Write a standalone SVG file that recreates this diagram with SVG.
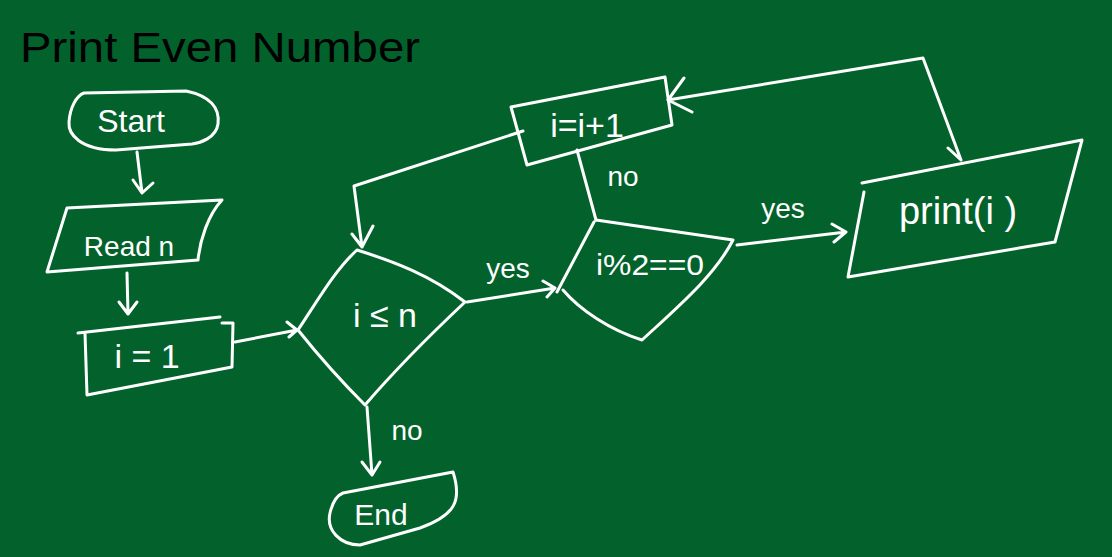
<svg xmlns="http://www.w3.org/2000/svg" width="1112" height="557" viewBox="0 0 1112 557">
<defs>
<style>
.s{fill:none;stroke:#fff;stroke-width:3;stroke-linecap:round;stroke-linejoin:round}
.t{fill:#fff;font-family:"Liberation Sans","DejaVu Sans",sans-serif;text-anchor:middle}
.title{fill:#000;font-family:"Liberation Sans","DejaVu Sans",sans-serif;font-size:42px}
</style>
</defs>
<rect width="1112" height="557" fill="#03622c"/>
<text class="title" x="20" y="62" textLength="400" lengthAdjust="spacingAndGlyphs">Print Even Number</text>

<g id="start">
<path class="s" d="M84 93 L186 91 C210 96 220 108 218 124 C216 138 200 143 192 144 L116 150 C80 150 68 134 69 122 C70 108 76 96 84 93 Z"/>
<text class="t" x="131" y="132" font-size="32">Start</text>
</g>
<g id="read">
<path class="s" d="M67 208 L222 200 C208 215 200 240 198 260 L47 272 Z"/>
<text class="t" x="129" y="256" font-size="28">Read n</text>
</g>
<g id="init">
<path class="s" d="M78 333 L220 317 M85 333 L87 395 L232 367 L233 323 L222 323"/>
<text class="t" x="147" y="368" font-size="34">i = 1</text>
</g>
<g id="cond">
<path class="s" d="M357 250 C395 262 430 275 465 302 C430 335 395 370 365 405 C340 380 318 355 298 330 C318 300 335 270 357 250 Z"/>
<text class="t" x="385" y="327" font-size="34">i ≤ n</text>
</g>
<g id="end">
<path class="s" d="M343 493 L453 472 C462 500 456 515 420 528 L360 545 C340 545 326 530 330 513 C333 500 338 495 343 493 Z"/>
<text class="t" x="381" y="525" font-size="30">End</text>
</g>
<g id="even">
<path class="s" d="M596 220 L733 240 C715 275 680 305 642 340 C610 330 580 310 563 290 M594 222 L557 292"/>
<text class="t" x="650" y="275" font-size="30" textLength="108" lengthAdjust="spacingAndGlyphs">i%2==0</text>
</g>
<g id="print">
<path class="s" d="M862 183 L1082 140 L1055 242 L848 277 L864 192"/>
<text class="t" x="958" y="224" font-size="38">print(i )</text>
</g>
<g id="incr">
<path class="s" d="M511 107 L665 77 L672 125 L527 165 Z"/>
<text class="t" x="587" y="137" font-size="34">i=i+1</text>
</g>

<g id="connectors">
<path class="s" d="M137 152 L142 193 M133 180 L142 193 L153 183"/>
<path class="s" d="M127 273 L128 314 M119 302 L128 314 L137 302"/>
<path class="s" d="M235 342 L297 330 M287 322 L297 330 L289 337"/>
<path class="s" d="M523 131 L354 186 L362 247 M352 234 L362 247 L373 226"/>
<path class="s" d="M467 302 L555 288 M543 281 L555 288 L547 297"/>
<path class="s" d="M367 407 L372 475 M362 462 L372 475 L380 462"/>
<path class="s" d="M577 150 L596 220"/>
<path class="s" d="M737 245 L846 232 M832 224 L846 232 L834 242"/>
<path class="s" d="M961 160 L923 58 L668 100 M684 78 L668 100 L692 112 M948 148 L961 160"/>
<text class="t" x="508" y="278" font-size="28">yes</text>
<text class="t" x="407" y="440" font-size="28">no</text>
<text class="t" x="623" y="186" font-size="28">no</text>
<text class="t" x="783" y="218" font-size="28">yes</text>
</g>
</svg>
